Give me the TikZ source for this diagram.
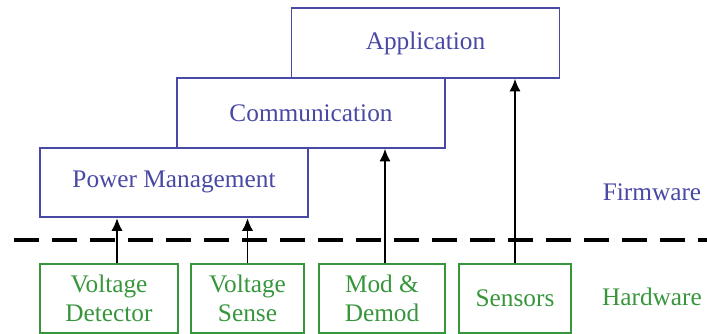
\documentclass[tikz,border=0pt]{standalone}
\usepackage{fontspec}
\setmainfont{Liberation Serif}
\usepackage{tikz}
\usetikzlibrary{arrows.meta, positioning}
\definecolor{fwblue}{RGB}{72, 72, 165}
\definecolor{hwgreen}{RGB}{55, 150, 60}

\begin{document}
\begin{tikzpicture}[
    box/.style={draw, minimum height=1.74cm, align=center,
                font=\fontsize{18}{20}\selectfont, line width=1.3pt, inner sep=2pt},
    fw/.style={box, draw=fwblue, text=fwblue, minimum width=6.7cm},
    hw/.style={box, draw=hwgreen, text=hwgreen, minimum height=1.72cm},
    arrow/.style={-{Latex[length=9pt, width=8pt]}, line width=1.4pt},
  ]
    \useasboundingbox (0,0) rectangle (17.675,8.35);

    % Firmware layers
    \node[fw] (app) at (10.6375,7.275) {Application};
    \node[fw] (comm) at (7.775,5.525) {Communication};
    \node[fw] (pm) at (4.35,3.79) {Power Management};

    % Boundary
    \coordinate (lineL) at (0.35,2.35);
    \coordinate (lineR) at (17.675,2.35);
    \draw[line width=2.6pt, dash pattern=on 0.62cm off 0.33cm] (lineL) -- (lineR);

    % Hardware blocks
    \node[hw, minimum width=3.45cm] (vdet) at (2.725,0.89) {Voltage\\Detector};
    \node[hw, minimum width=2.825cm] (vsense) at (6.1875,0.89) {Voltage\\Sense};
    \node[hw, minimum width=3.15cm] (mod) at (9.55,0.89) {Mod \&\\Demod};
    \node[hw, minimum width=2.8cm] (sens) at (12.875,0.89) {Sensors};

    % Layer labels
    \node[font=\fontsize{18}{20}\selectfont, text=fwblue] (fwlabel) at (16.3,3.55) {Firmware};
    \node[font=\fontsize{18}{20}\selectfont, text=hwgreen] (hwlabel) at (16.3,0.93) {Hardware};

    % Arrows
    \draw[arrow] ([xshift=2mm]vdet.north) -- ([xshift=2mm]vdet.north |- pm.south);
    \draw[arrow] (vsense.north) -- (vsense.north |- pm.south);
    \draw[arrow] ([xshift=0.75mm]mod.north) -- ([xshift=0.75mm]mod.north |- comm.south);
    \draw[arrow] (sens.north) -- (sens.north |- app.south);
  \end{tikzpicture}
\end{document}
